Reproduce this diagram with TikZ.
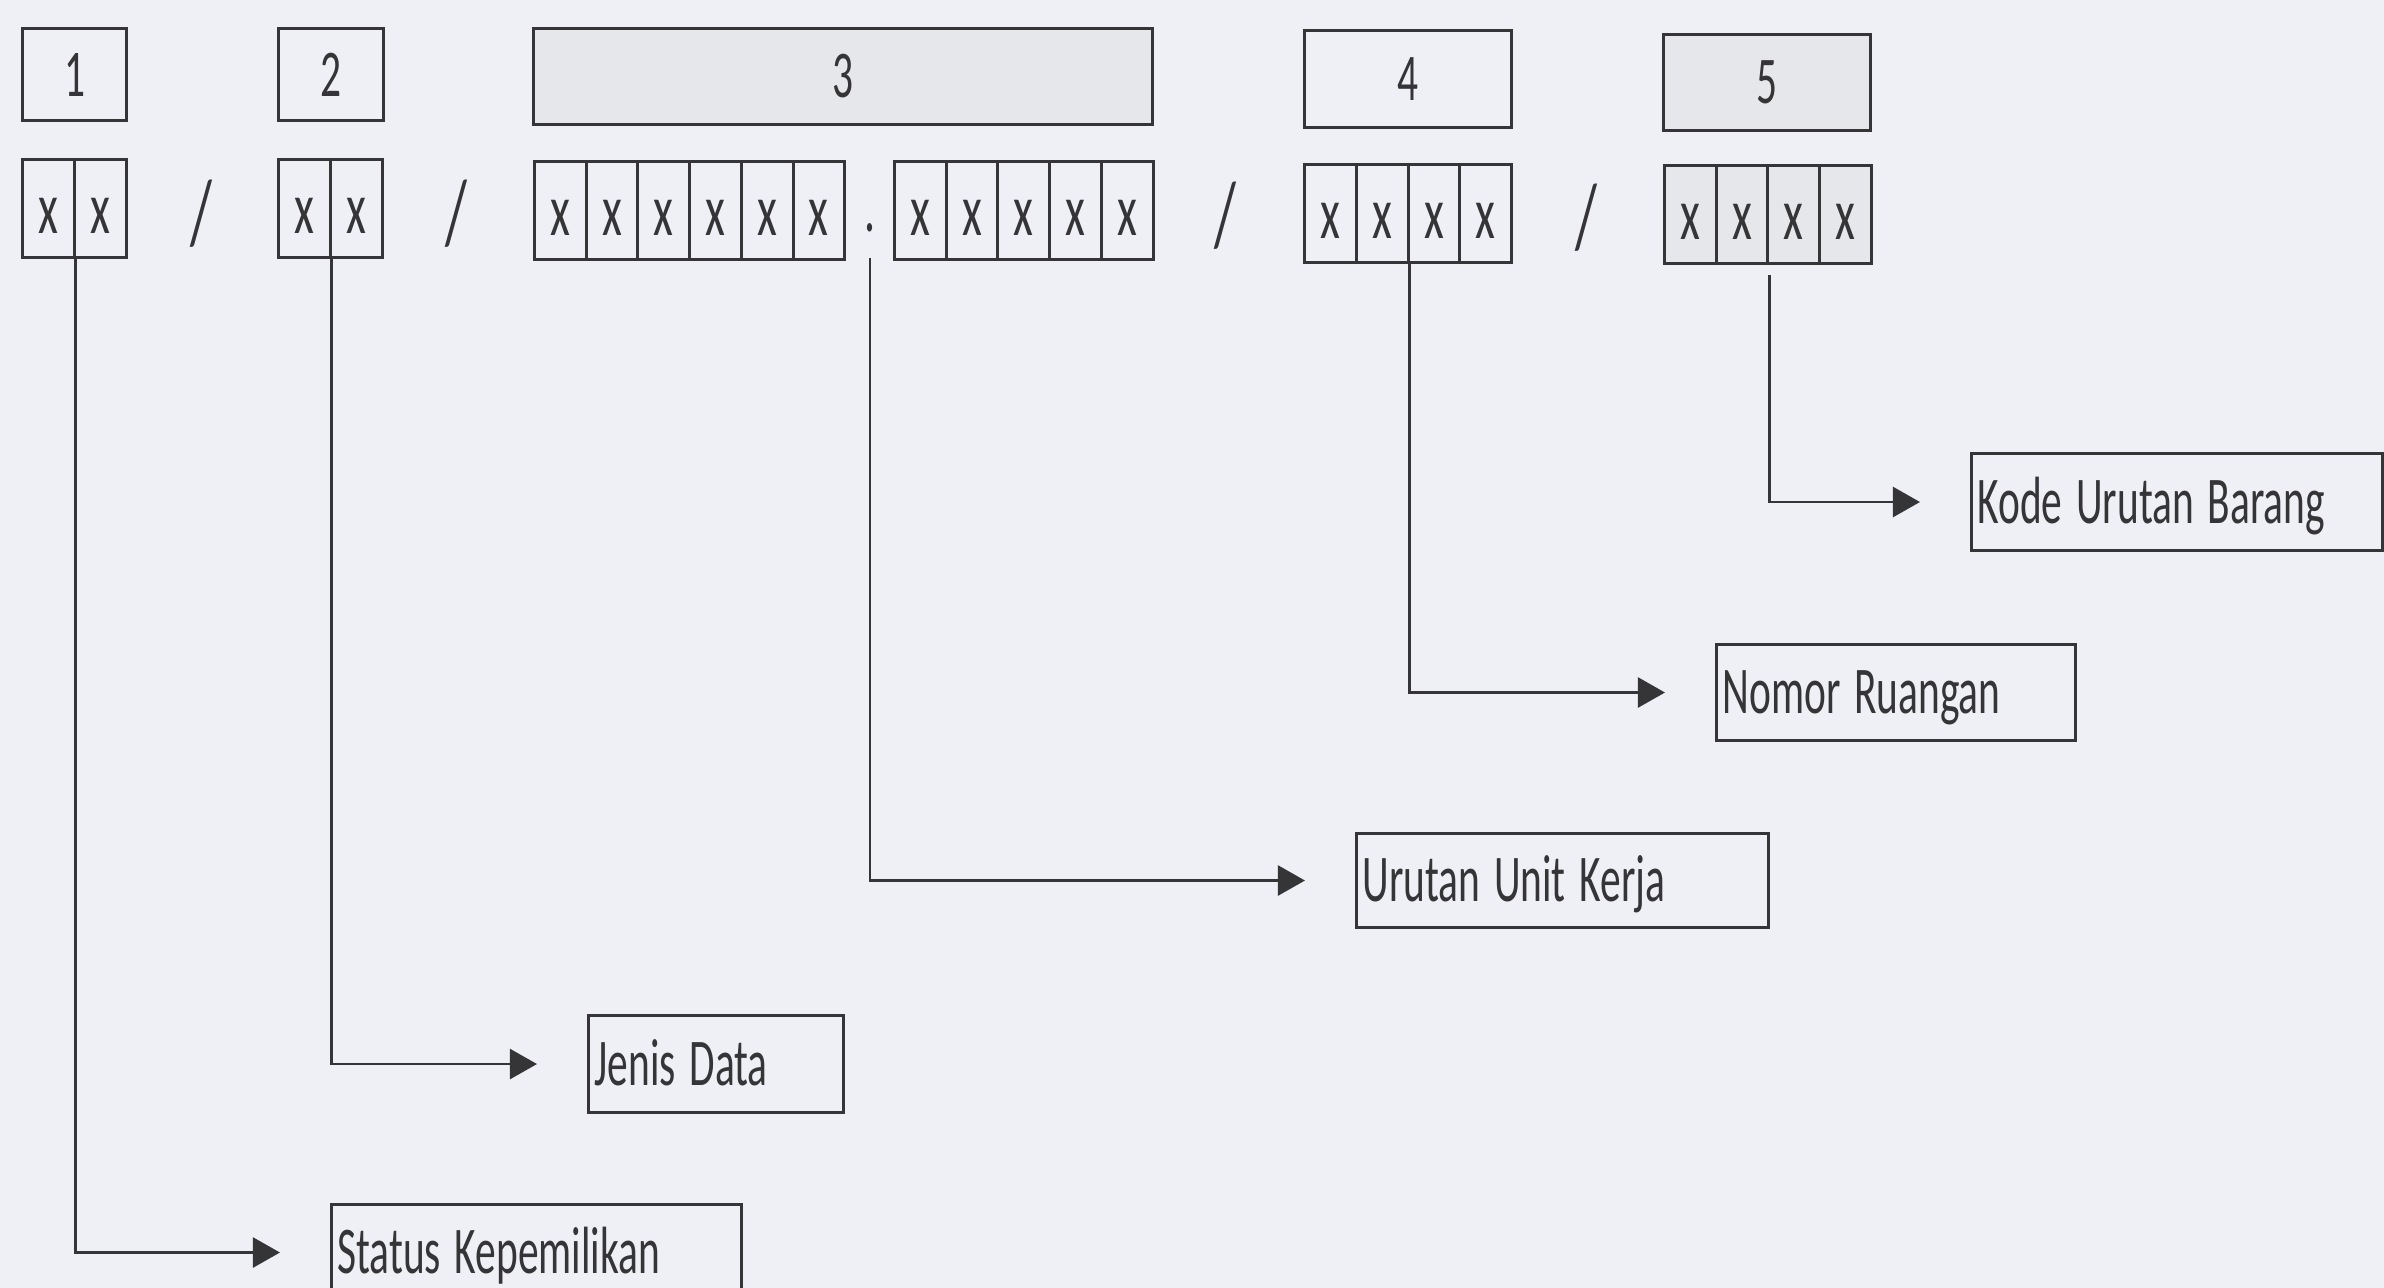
\documentclass[tikz,border=0pt]{standalone}
\usepackage{graphicx}
\usepackage{fontspec}
\setmainfont{Carlito}
\usetikzlibrary{arrows.meta}

\definecolor{paper}{HTML}{EEF0F5}
\definecolor{ink}{HTML}{353538}
\definecolor{shade}{HTML}{E5E7EB}

% narrow lettering used throughout the code layout
\newcommand{\cnd}[1]{\scalebox{0.62}[1]{#1}}

\tikzset{
  frame/.style={draw=ink, line width=0.85pt, inner sep=0pt, anchor=north west, text=ink},
  head/.style={frame, font=\fontsize{19}{22}\selectfont},
  cell/.style={frame, minimum width=0.517cm, minimum height=0.98cm,
               text height=0.5cm, text depth=0pt,
               font=\fontsize{21}{24}\selectfont},
  sep/.style={inner sep=0pt, text=ink, font=\fontsize{26}{30}\selectfont},
  caption/.style={frame, inner xsep=0.06cm, inner ysep=0pt, align=left,
                  text height=0.5cm, text depth=0.08cm,
                  font=\fontsize{19}{22}\selectfont},
  link/.style={draw=ink, line width=0.7pt,
               -{Triangle[length=0.27cm,width=0.3cm]}, shorten >=0.5cm},
}

\begin{document}
\begin{tikzpicture}[x=0.01cm, y=-0.01cm]
  \useasboundingbox[fill=paper] (0,0) rectangle (2384,1288);
  \clip (0,0) rectangle (2384,1288);

  % field numbers
  \node[head, minimum width=1.04cm, minimum height=0.92cm] (h1) at (21,27) {\cnd{1}};
  \node[head, minimum width=1.05cm, minimum height=0.92cm] (h2) at (277,27) {\cnd{2}};
  \node[head, fill=shade, minimum width=6.19cm, minimum height=0.96cm] (h3) at (532,27) {\cnd{3}};
  \node[head, minimum width=2.07cm, minimum height=0.97cm] (h4) at (1303,29) {\cnd{4}};
  \node[head, fill=shade, minimum width=2.07cm, minimum height=0.96cm] (h5) at (1662,33) {\cnd{5}};

  % digit cells of each field
  \foreach \i in {1,2}
    \node[cell] (a\i) at ({21+(\i-1)*52},158) {\cnd{x}};
  \foreach \i in {1,2}
    \node[cell] (b\i) at ({277+(\i-1)*52.5},158) {\cnd{x}};
  \foreach \i in {1,...,6}
    \node[cell] (c\i) at ({533+(\i-1)*51.7},160) {\cnd{x}};
  \foreach \i in {1,...,5}
    \node[cell] (k\i) at ({893+(\i-1)*51.7},160) {\cnd{x}};
  \foreach \i in {1,...,4}
    \node[cell] (d\i) at ({1303+(\i-1)*51.8},163) {\cnd{x}};
  \foreach \i in {1,...,4}
    \node[cell, fill=shade] (e\i) at ({1663+(\i-1)*51.6},164) {\cnd{x}};

  % separators between fields
  \node[sep] (s1) at (201,214) {\cnd{/}};
  \node[sep] (s2) at (456,214) {\cnd{/}};
  \node[sep] (s3) at (1225,216) {\cnd{/}};
  \node[sep] (s4) at (1586,218) {\cnd{/}};
  \node[sep, font=\fontsize{20}{24}\selectfont] (dt) at (870,228) {\cnd{.}};

  % meaning of each field
  \node[caption, text width=3.98cm, minimum height=0.96cm] (st) at (330,1203) {\cnd{Status Kepemilikan}};
  \node[caption, text width=2.43cm, minimum height=0.97cm] (jd) at (587,1014) {\cnd{Jenis Data}};
  \node[caption, text width=4.00cm, minimum height=0.94cm] (uk) at (1355,832) {\cnd{Urutan Unit Kerja}};
  \node[caption, text width=3.47cm, minimum height=0.96cm] (nr) at (1715,643) {\cnd{Nomor Ruangan}};
  \node[caption, text width=3.99cm, minimum height=0.97cm] (kb) at (1970,452) {\cnd{Kode Urutan Barang}};

  % leaders from the cells to their captions
  \draw[link] (a1.south east) |- (st.west);
  \draw[link] (b1.south east) |- (jd.west);
  \draw[link, shorten <=0.25cm] (dt.south) |- (uk.west);
  \draw[link] (d2.south east) |- (nr.west);
  \draw[link, shorten <=0.1cm] (e2.south east) |- (kb.west);
\end{tikzpicture}
\end{document}
